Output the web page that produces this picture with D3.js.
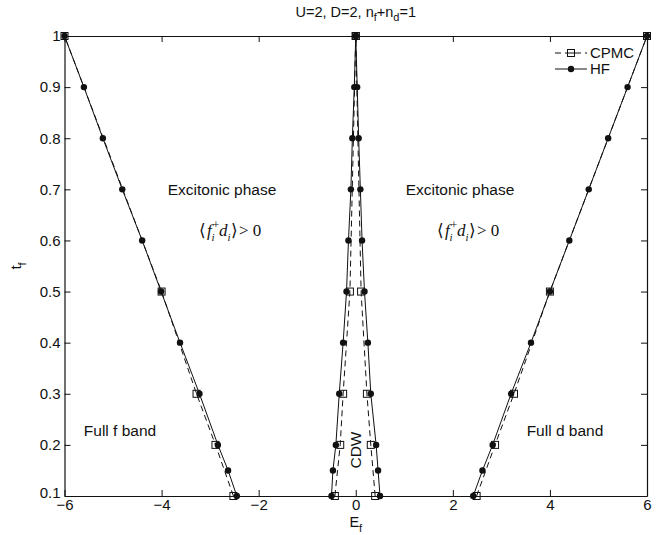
<!DOCTYPE html>
<html>
<head>
<meta charset="utf-8">
<script src="https://cdn.jsdelivr.net/npm/d3@7"></script>
<style>
  html, body { margin: 0; padding: 0; background: #fff; }
  svg { display: block; font-family: "Liberation Sans", Arial, Helvetica, sans-serif; }
</style>
</head>
<body>
<svg id="chart" width="672" height="535"></svg>
<script>
// Phase boundaries in the (E_f, t_f) plane for U=2, D=2, n_f+n_d=1
const tHF = [0.1, 0.15, 0.2, 0.3, 0.4, 0.5, 0.6, 0.7, 0.8, 0.9, 1.0];
const hfLeftOuter  = [-2.45, -2.63, -2.84, -3.22, -3.62, -4.01, -4.40, -4.81, -5.21, -5.60, -6.0];
const hfLeftInner  = [-0.50, -0.47, -0.41, -0.34, -0.26, -0.19, -0.15, -0.10, -0.07, -0.03, 0];
const hfRightInner = [0.50, 0.46, 0.42, 0.31, 0.25, 0.18, 0.13, 0.095, 0.06, 0.03, 0];
const hfRightOuter = [2.42, 2.61, 2.82, 3.20, 3.61, 4.00, 4.40, 4.80, 5.20, 5.60, 6.0];

const tCPMC = [0.1, 0.2, 0.3, 0.5, 1.0];
const cpmcLeftOuter  = [-2.52, -2.89, -3.28, -4.0, -6.0];
const cpmcLeftInner  = [-0.43, -0.32, -0.26, -0.12, 0];
const cpmcRightInner = [0.40, 0.31, 0.23, 0.11, 0];
const cpmcRightOuter = [2.49, 2.87, 3.26, 4.0, 6.0];

const xTicks = [-6, -4, -2, 0, 2, 4, 6];
const xTickLabels = ["\u22126", "\u22124", "\u22122", "0", "2", "4", "6"];
const yTicks = [0.1, 0.2, 0.3, 0.4, 0.5, 0.6, 0.7, 0.8, 0.9, 1];
const yTickLabels = ["0.1", "0.2", "0.3", "0.4", "0.5", "0.6", "0.7", "0.8", "0.9", "1"];

const svg = d3.select("#chart");
const W = 672, H = 535;
const m = { left: 64.5, right: 25, top: 36, bottom: 39 };
const x = d3.scaleLinear().domain([-6, 6]).range([m.left, W - m.right]);
const y = d3.scaleLinear().domain([0.1, 1]).range([H - m.bottom, m.top]);
const ink = "#111";

// Axes (box with inward ticks on all four sides)
const tickLen = 6;
const axB = svg.append("g").attr("transform", `translate(0,${y(0.1)})`)
  .call(d3.axisBottom(x).tickValues(xTicks).tickSizeInner(-tickLen).tickSizeOuter(0)
    .tickPadding(8).tickFormat((d, i) => xTickLabels[i]));
const axT = svg.append("g").attr("transform", `translate(0,${y(1)})`)
  .call(d3.axisTop(x).tickValues(xTicks).tickSizeInner(-tickLen).tickSizeOuter(0).tickFormat(""));
const axL = svg.append("g").attr("transform", `translate(${x(-6)},0)`)
  .call(d3.axisLeft(y).tickValues(yTicks).tickSizeInner(-tickLen).tickSizeOuter(0)
    .tickPadding(4).tickFormat((d, i) => yTickLabels[i]));
const axR = svg.append("g").attr("transform", `translate(${x(6)},0)`)
  .call(d3.axisRight(y).tickValues(yTicks).tickSizeInner(-tickLen).tickSizeOuter(0).tickFormat(""));
[axB, axT, axL, axR].forEach(g => {
  g.select(".domain").attr("stroke", ink).attr("stroke-width", 1.2);
  g.selectAll(".tick line").attr("stroke", ink).attr("stroke-width", 1);
  g.selectAll(".tick text").attr("fill", ink).style("font-size", "15px")
    .style("font-family", "'Liberation Sans', Arial, sans-serif");
});
axB.selectAll(".tick text").attr("dy", "0.71em").attr("y", 3);
// the lowest y label sits just above the corner so it clears the x labels
axL.selectAll(".tick text").filter(d => d === 0.1).attr("dy", "0.12em");

// Series
const line = d3.line().x(d => x(d[0])).y(d => y(d[1]));
const branches = (ts, arrs) => arrs.map(a => a.map((v, i) => [v, ts[i]]));
const cpmc = branches(tCPMC, [cpmcLeftOuter, cpmcLeftInner, cpmcRightInner, cpmcRightOuter]);
const hf = branches(tHF, [hfLeftOuter, hfLeftInner, hfRightInner, hfRightOuter]);

const gC = svg.append("g");
cpmc.forEach(b => {
  gC.append("path").datum(b).attr("d", line).attr("fill", "none")
    .attr("stroke", ink).attr("stroke-width", 1).attr("stroke-dasharray", "6,4");
});
const sq = 7;
cpmc.forEach(b => {
  gC.selectAll(null).data(b).enter().append("rect")
    .attr("x", d => x(d[0]) - sq / 2).attr("y", d => y(d[1]) - sq / 2)
    .attr("width", sq).attr("height", sq)
    .attr("fill", "none").attr("stroke", ink).attr("stroke-width", 1);
});

const gH = svg.append("g");
hf.forEach(b => {
  gH.append("path").datum(b).attr("d", line).attr("fill", "none")
    .attr("stroke", ink).attr("stroke-width", 1);
});
hf.forEach(b => {
  gH.selectAll(null).data(b).enter().append("circle")
    .attr("cx", d => x(d[0])).attr("cy", d => y(d[1])).attr("r", 3.2).attr("fill", ink);
});

// Title
const title = svg.append("text").attr("x", x(0)).attr("y", 17).attr("text-anchor", "middle")
  .style("font-size", "14.5px").attr("fill", ink);
title.append("tspan").text("U=2, D=2, n");
title.append("tspan").attr("dy", 4).style("font-size", "11px").text("f");
title.append("tspan").attr("dy", -4).text("+n");
title.append("tspan").attr("dy", 4).style("font-size", "11px").text("d");
title.append("tspan").attr("dy", -4).text("=1");

// Axis labels
const xl = svg.append("text").attr("x", x(0)).attr("y", 527).attr("text-anchor", "middle")
  .style("font-size", "14.5px").attr("fill", ink);
xl.append("tspan").text("E");
xl.append("tspan").attr("dy", 5).style("font-size", "11px").text("f");

const yl = svg.append("text").attr("transform", `translate(21,${y(0.55)}) rotate(-90)`)
  .attr("text-anchor", "middle").style("font-size", "15px").attr("fill", ink);
yl.append("tspan").text("t");
yl.append("tspan").attr("dy", 5).style("font-size", "11px").text("f");

// Region labels
const label = (tx, ty, s, anchor = "middle") => svg.append("text").attr("x", tx).attr("y", ty)
  .attr("text-anchor", anchor).style("font-size", "15.5px").attr("fill", ink).text(s);
label(222, 195, "Excitonic phase");
label(460, 195, "Excitonic phase");
label(120, 436, "Full f band");
label(565, 436, "Full d band");
svg.append("text").attr("transform", `translate(${x(0) + 5},${y(0.19)}) rotate(-90)`)
  .attr("text-anchor", "middle").style("font-size", "15.5px").attr("fill", ink).text("CDW");

// Order parameter annotation <f_i^+ d_i> > 0, each glyph placed on its own
function orderParam(x0, by) {
  const g = svg.append("g").attr("transform", `translate(${x0},${by})`)
    .style("font-family", "'Liberation Serif', 'Times New Roman', serif").attr("fill", ink);
  const put = (dx, dy, s, size, italic) => g.append("text").attr("x", dx).attr("y", dy)
    .style("font-size", size + "px").style("font-style", italic ? "italic" : "normal").text(s);
  put(0, 0, "\u27E8", 17, false);
  put(8, 0, "f", 17, true);
  put(13.5, -7, "+", 12, false);
  put(12.5, 5, "i", 11, true);
  put(20, 0, "d", 17, true);
  put(28.5, 5, "i", 11, true);
  put(32, 0, "\u27E9", 17, false);
  put(40, 0, "> 0", 17, false);
}
orderParam(199, 236);
orderParam(437, 236);

// Legend
const lg = svg.append("g");
const lx0 = 555, lx1 = 587, lxm = (lx0 + lx1) / 2;
lg.append("line").attr("x1", lx0).attr("x2", lx1).attr("y1", 53).attr("y2", 53)
  .attr("stroke", ink).attr("stroke-dasharray", "6,4");
lg.append("rect").attr("x", lxm - sq / 2).attr("y", 53 - sq / 2).attr("width", sq).attr("height", sq)
  .attr("fill", "#fff").attr("stroke", ink);
lg.append("line").attr("x1", lxm - sq / 2).attr("x2", lxm + sq / 2).attr("y1", 53).attr("y2", 53).attr("stroke", ink);
lg.append("text").attr("x", 590).attr("y", 58).style("font-size", "15px").attr("fill", ink).text("CPMC");
lg.append("line").attr("x1", lx0).attr("x2", lx1).attr("y1", 69).attr("y2", 69).attr("stroke", ink);
lg.append("circle").attr("cx", lxm).attr("cy", 69).attr("r", 3.2).attr("fill", ink);
lg.append("text").attr("x", 590).attr("y", 74).style("font-size", "15px").attr("fill", ink).text("HF");
</script>
</body>
</html>
